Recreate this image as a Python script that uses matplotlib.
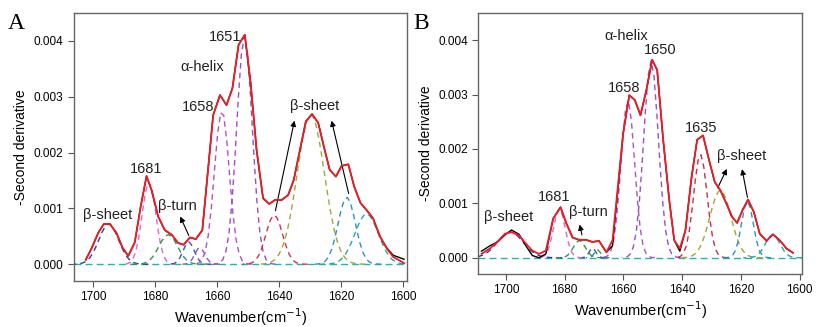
import matplotlib.pyplot as plt
import numpy as np

plt.rcParams['font.family'] = ['Liberation Sans', 'DejaVu Sans']

# ---- panel A: measured / fitted second-derivative spectra ----
wn_a = [1702.4, 1700.5, 1698.4, 1696.6, 1694.6, 1692.5, 1690.5, 1688.7, 1686.6, 1684.7,
        1682.8, 1681.2, 1679.0, 1676.9, 1674.7, 1672.6, 1670.8, 1668.8, 1666.9, 1664.8,
        1661.3, 1659.1, 1657.0, 1655.1, 1653.1, 1651.1, 1649.2, 1647.3, 1645.2, 1643.2,
        1641.4, 1639.2, 1637.1, 1635.3, 1633.3, 1631.4, 1629.4, 1627.4, 1625.6, 1623.7,
        1621.7, 1619.9, 1617.7, 1615.8, 1613.8, 1611.8, 1609.7, 1607.5, 1605.4, 1603.2,
        1599.7]
fit_a = [0.00008, 0.00029, 0.00056, 0.00072, 0.00072, 0.00056, 0.00029, 0.00015, 0.00039, 0.00103,
         0.00158, 0.00133, 0.00085, 0.00061, 0.00053, 0.00038, 0.00035, 0.00048, 0.00045, 0.00061,
         0.00267, 0.00303, 0.00285, 0.00315, 0.00393, 0.00411, 0.00324, 0.00205, 0.00118, 0.00108,
         0.00115, 0.00115, 0.00124, 0.00151, 0.00205, 0.00256, 0.00269, 0.00253, 0.00211, 0.00169,
         0.00157, 0.00176, 0.00179, 0.00139, 0.00110, 0.00097, 0.00082, 0.00050, 0.00029, 0.00013,
         0.00002]
raw_a = fit_a[:-3] + [0.00030, 0.00016, 0.00009]

# band components: centre, height, width
cen_a = [1695.0, 1682.0, 1675.8, 1669.2, 1665.6, 1658.5, 1651.2, 1641.6, 1629.8, 1618.2, 1611.8]
amp_a = [0.00072, 0.00148, 0.00053, 0.00040, 0.00030, 0.00275, 0.00408, 0.00088, 0.00268, 0.00120, 0.00090]
wid_a = [3.2, 2.2, 3.0, 1.8, 1.6, 2.4, 2.5, 2.7, 4.4, 2.8, 3.8]
col_a = ['#2c3e9c', '#e066c8', '#2e9a4e', '#3656b4', '#9a50c8', '#b44fc4', '#a04cc0',
         '#d2304c', '#a4a634', '#2f8fc8', '#26a8a8']

# ---- panel B ----
wn_b = [1708.3, 1705.4, 1702.6, 1700.3, 1698.1, 1695.5, 1693.2, 1691.0, 1688.7, 1686.4,
        1683.9, 1681.4, 1679.4, 1677.3, 1675.1, 1672.8, 1670.5, 1668.3, 1665.8, 1663.7,
        1660.1, 1658.0, 1656.1, 1654.2, 1652.2, 1650.2, 1648.5, 1646.5, 1644.4, 1642.7,
        1640.8, 1638.9, 1636.8, 1634.9, 1632.9, 1631.1, 1628.9, 1627.0, 1624.9, 1623.0,
        1621.3, 1619.5, 1617.6, 1615.6, 1613.6, 1611.3, 1609.1, 1606.8, 1604.5, 1602.3]
fit_b = [0.00007, 0.00017, 0.00031, 0.00044, 0.00047, 0.00041, 0.00026, 0.00013, 0.00007, 0.00013,
         0.00072, 0.00093, 0.00063, 0.00037, 0.00033, 0.00033, 0.00029, 0.00031, 0.00010, 0.00032,
         0.00228, 0.00299, 0.00290, 0.00262, 0.00308, 0.00364, 0.00345, 0.00219, 0.00106, 0.00032,
         0.00017, 0.00050, 0.00148, 0.00217, 0.00225, 0.00185, 0.00139, 0.00124, 0.00099, 0.00075,
         0.00064, 0.00087, 0.00107, 0.00084, 0.00044, 0.00031, 0.00043, 0.00032, 0.00017, 0.00009]
raw_b = [0.00012, 0.00022, 0.00030, 0.00042, 0.00051, 0.00043, 0.00022, 0.00004, 0.00000, 0.00007] \
    + fit_b[10:19] + [0.00022] + fit_b[20:30] + [0.00012] + fit_b[31:]

cen_b = [1698.5, 1681.8, 1675.0, 1670.5, 1668.8, 1658.5, 1650.6, 1633.8, 1627.0, 1617.8, 1609.2]
amp_b = [0.00047, 0.00090, 0.00032, 0.00018, 0.00015, 0.00290, 0.00362, 0.00190, 0.00124, 0.00104, 0.00042]
wid_b = [4.4, 2.0, 2.0, 1.1, 1.0, 2.3, 2.5, 2.3, 3.6, 2.0, 2.5]
col_b = ['#2c3e9c', '#e066c8', '#2e9a4e', '#3656b4', '#2e9a4e', '#b44fc4', '#a04cc0',
         '#c4304c', '#a4a634', '#2f8fc8', '#26a8a8']

# text labels: (text, x, y)
labels_a = [('1651', 1657.4, 0.00407), ('α-helix', 1664.9, 0.00354), ('1658', 1666.3, 0.00282),
            ('β-sheet', 1628.5, 0.00284), ('1681', 1683.0, 0.00170), ('β-turn', 1672.8, 0.00105),
            ('β-sheet', 1695.4, 0.00088)]
arrows_a = [((1668.8, 0.00047), (1672.3, 0.00090)),
            ((1641.4, 0.00091), (1634.9, 0.00262)),
            ((1617.4, 0.00122), (1623.3, 0.00262))]
labels_b = [('α-helix', 1659.0, 0.00408), ('1650', 1647.4, 0.00383), ('1658', 1659.9, 0.00313),
            ('1635', 1633.7, 0.00239), ('β-sheet', 1619.6, 0.00187), ('1681', 1683.6, 0.00112),
            ('β-turn', 1672.0, 0.00084), ('β-sheet', 1699.0, 0.00075)]
arrows_b = [((1673.9, 0.00037), (1675.1, 0.00066)),
            ((1628.3, 0.00124), (1624.4, 0.00168)),
            ((1617.6, 0.00106), (1619.8, 0.00168))]


def draw_panel(ax, wn, fit, raw, cen, amp, wid, cols, labels, arrows, xlim, letter):
    grid = np.arange(xlim[0], xlim[1] - 0.1, -2.0)
    ax.plot(grid, np.zeros_like(grid), ls=(0, (5, 3)), color='#1fb5b5', lw=1.0, zorder=1)
    for c, a, w, col in zip(cen, amp, wid, cols):
        xs = np.arange(c - 4 * w, c + 4 * w + 0.1, 1.0)
        ax.plot(xs, a * np.exp(-0.5 * ((xs - c) / w) ** 2), ls=(0, (4, 3)), color=col, lw=1.0, zorder=2)
    ax.plot(wn, raw, color='black', lw=1.0, zorder=3)
    ax.plot(wn, fit, color='#ee1c25', lw=1.3, zorder=4)

    for txt, x, y in labels:
        ax.text(x, y, txt, ha='center', va='center', fontsize=10.5, color='#222222')
    for tail, head in arrows:
        ax.annotate('', xy=head, xytext=tail,
                    arrowprops=dict(arrowstyle='-|>', color='black', lw=0.8, mutation_scale=8))

    ax.set_xlim(xlim)
    ax.set_ylim(-0.0003, 0.0045)
    ax.set_xticks([1700, 1680, 1660, 1640, 1620, 1600])
    ax.set_yticks([0.000, 0.001, 0.002, 0.003, 0.004])
    ax.set_yticklabels(['0.000', '0.001', '0.002', '0.003', '0.004'])
    ax.tick_params(direction='out', labelsize=8.5, length=4, color='#555555')
    for s in ax.spines.values():
        s.set_color('#666666')
        s.set_linewidth(1.0)
    ax.set_xlabel('Wavenumber(cm$^{-1}$)', fontsize=10.5, labelpad=2)
    ax.set_ylabel('-Second derivative', fontsize=10, labelpad=4)
    ax.text(-0.2, 1.0, letter, transform=ax.transAxes, fontsize=17,
            family='Liberation Serif', va='top', ha='left')


fig = plt.figure(figsize=(8.26, 3.27), dpi=100)
ax_a = fig.add_axes([0.0896, 0.1407, 0.403, 0.8196])
ax_b = fig.add_axes([0.579, 0.162, 0.392, 0.798])

draw_panel(ax_a, wn_a, fit_a, raw_a, cen_a, amp_a, wid_a, col_a, labels_a, arrows_a,
           (1706.2, 1598.8), 'A')
draw_panel(ax_b, wn_b, fit_b, raw_b, cen_b, amp_b, wid_b, col_b, labels_b, arrows_b,
           (1709.4, 1599.2), 'B')

fig.savefig('out.png', dpi=100)
